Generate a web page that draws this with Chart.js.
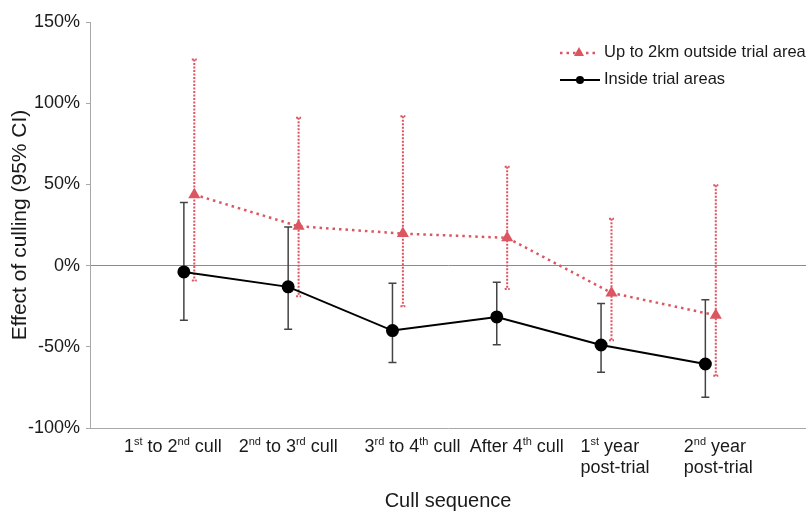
<!DOCTYPE html>
<html>
<head>
<meta charset="utf-8">
<script src="https://cdn.jsdelivr.net/npm/chart.js@4.4.1/dist/chart.umd.min.js"></script>
<style>
  html, body { margin: 0; padding: 0; background: #fff; }
  #wrap { width: 806px; height: 513px; }
</style>
</head>
<body>
<div id="wrap"><canvas id="c" width="806" height="513"></canvas></div>
<script>
// ── datos ──
const categories = ['1st to 2nd cull', '2nd to 3rd cull', '3rd to 4th cull', 'After 4th cull', '1st year\npost-trial', '2nd year\npost-trial'];
const insideEst  = [-3.9, -13.1, -40.0, -31.6, -48.9, -60.6];
const insideLo   = [-33.7, -39.2, -59.6, -48.7, -65.7, -81.1];
const insideHi   = [38.8, 23.8, -10.9, -10.3, -23.4, -21.1];
const outsideEst = [43.7, 24.2, 19.7, 17.1, -16.8, -30.6];
const outsideLo  = [-9.1, -18.9, -25.1, -14.4, -46.0, -67.8];
const outsideHi  = [126.9, 91.0, 92.0, 60.8, 28.8, 49.5];
const yTicks     = [-100, -50, 0, 50, 100, 150];

// ── estilo ──
const RED = '#dc5560';
const RED_SHIFT = 0.1;                       // desplazamiento de la serie roja
const LABEL_SHIFT = [-11, 0, 20, 20, 14, 13]; // ajuste de etiquetas del eje x
const FONT = '"Liberation Sans", Arial, sans-serif';

function pts(vals, shift) {
    return vals.map((v, i) => ({ x: i + 1 + shift, y: v }));
}

// barras de error
const errorBars = {
    id: 'errorBars',
    beforeDatasetsDraw(chart) {
        const ctx = chart.ctx, ys = chart.scales.y;
        chart.data.datasets.forEach((ds, di) => {
            const meta = chart.getDatasetMeta(di);
            ctx.save();
            ctx.strokeStyle = ds.errColor;
            ctx.lineWidth = ds.errWidth;
            ctx.setLineDash(ds.errDash);
            meta.data.forEach((p, i) => {
                const yh = ys.getPixelForValue(ds.errHi[i]);
                const yl = ys.getPixelForValue(ds.errLo[i]);
                const c = ds.errCap;
                ctx.beginPath();
                ctx.moveTo(p.x, yh); ctx.lineTo(p.x, yl);
                ctx.moveTo(p.x - c, yh); ctx.lineTo(p.x + c, yh);
                ctx.moveTo(p.x - c, yl); ctx.lineTo(p.x + c, yl);
                ctx.stroke();
            });
            ctx.restore();
        });
    }
};

// etiquetas del eje x con superíndices
function drawRich(ctx, text, x, y) {
    const parts = text.split(/(\d)(st|nd|rd|th)\b/);
    const segs = [];
    for (let k = 0; k < parts.length; k++) {
        if (!parts[k]) continue;
        // índice: 0 normal, 1 dígito, 2 sufijo
        segs.push({ t: parts[k], sup: k % 3 === 2 });
    }
    let cx = x;
    segs.forEach(s => {
        ctx.font = (s.sup ? '11px ' : '18px ') + FONT;
        ctx.fillText(s.t, cx, s.sup ? y - 7 : y);
        cx += ctx.measureText(s.t).width;
    });
    return cx - x;
}
function richWidth(ctx, text) {
    ctx.save();
    ctx.globalAlpha = 0;
    const w = drawRich(ctx, text, 0, 0);
    ctx.restore();
    return w;
}
const xLabels = {
    id: 'xLabels',
    afterDraw(chart) {
        const ctx = chart.ctx, xs = chart.scales.x;
        ctx.save();
        ctx.fillStyle = '#1a1a1a';
        ctx.textAlign = 'left';
        ctx.textBaseline = 'alphabetic';
        categories.forEach((lab, i) => {
            const lines = lab.split('\n');
            const ws = lines.map(l => richWidth(ctx, l));
            const cx = xs.getPixelForValue(i + 1) + LABEL_SHIFT[i];
            const left = cx - Math.max(...ws) / 2;
            lines.forEach((l, j) => {
                const lx = lines.length > 1 ? left : cx - ws[j] / 2;
                drawRich(ctx, l, lx, xs.top + 24 + j * 21);
            });
        });
        ctx.restore();
    }
};

// leyenda
const legendBox = {
    id: 'legendBox',
    afterDraw(chart) {
        const ctx = chart.ctx;
        ctx.save();
        // serie roja
        ctx.strokeStyle = RED; ctx.lineWidth = 2.5; ctx.setLineDash([2.5, 4]);
        ctx.beginPath(); ctx.moveTo(560, 53); ctx.lineTo(598, 53); ctx.stroke();
        ctx.setLineDash([]);
        ctx.fillStyle = RED;
        ctx.beginPath(); ctx.moveTo(579, 47); ctx.lineTo(584, 56); ctx.lineTo(574, 56); ctx.closePath(); ctx.fill();
        // serie negra
        ctx.strokeStyle = '#000'; ctx.lineWidth = 2;
        ctx.beginPath(); ctx.moveTo(560, 80); ctx.lineTo(600, 80); ctx.stroke();
        ctx.fillStyle = '#000';
        ctx.beginPath(); ctx.arc(580, 80, 4, 0, Math.PI * 2); ctx.fill();
        ctx.fillStyle = '#1a1a1a';
        ctx.font = '16.5px ' + FONT;
        ctx.textBaseline = 'middle';
        ctx.fillText(chart.data.datasets[0].label, 604, 52);
        ctx.fillText(chart.data.datasets[1].label, 604, 79);
        ctx.restore();
    }
};

new Chart(document.getElementById('c'), {
    type: 'line',
    data: {
        datasets: [
            {
                label: 'Up to 2km outside trial areas',
                data: pts(outsideEst, RED_SHIFT),
                borderColor: RED, borderWidth: 2.5, borderDash: [2.5, 4],
                pointStyle: 'triangle', pointRadius: 7,
                pointBackgroundColor: RED, pointBorderColor: RED, pointBorderWidth: 0,
                errLo: outsideLo, errHi: outsideHi,
                errColor: RED, errWidth: 2, errDash: [2, 1.5], errCap: 2.5
            },
            {
                label: 'Inside trial areas',
                data: pts(insideEst, 0),
                borderColor: '#000', borderWidth: 2,
                pointStyle: 'circle', pointRadius: 5.5,
                pointBackgroundColor: '#000', pointBorderColor: '#000',
                errLo: insideLo, errHi: insideHi,
                errColor: '#444', errWidth: 1.5, errDash: [], errCap: 4
            }
        ]
    },
    options: {
        responsive: false,
        animation: false,
        layout: { autoPadding: false, padding: { top: 22, right: 0, bottom: 0, left: 0 } },
        plugins: { legend: { display: false }, tooltip: { enabled: false } },
        scales: {
            x: {
                type: 'linear', min: 0.1, max: 6.965,
                afterFit: s => { s.height = 85; },
                grid: { display: false },
                border: { display: true, color: '#a8a8a8', width: 1 },
                ticks: { display: false },
                title: { display: true, text: 'Cull sequence', color: '#1a1a1a',
                         font: { family: FONT, size: 20 }, padding: { top: 0, bottom: 0 } }
            },
            y: {
                min: -100, max: 150,
                afterFit: s => { s.width = 90; },
                afterBuildTicks: s => { s.ticks = yTicks.map(v => ({ value: v })); },
                grid: {
                    color: c => (c.tick && c.tick.value === 0) ? '#8c8c8c' : 'transparent',
                    tickColor: '#a8a8a8', tickLength: 4, lineWidth: 1
                },
                border: { display: true, color: '#a8a8a8', width: 1 },
                ticks: { color: '#1a1a1a', padding: 6, font: { family: FONT, size: 18 },
                         callback: v => v + '%' },
                title: { display: true, text: 'Effect of culling (95% CI)', color: '#1a1a1a',
                         font: { family: FONT, size: 21 }, padding: { top: 8, bottom: 0 } }
            }
        }
    },
    plugins: [errorBars, xLabels, legendBox]
});
</script>
</body>
</html>
